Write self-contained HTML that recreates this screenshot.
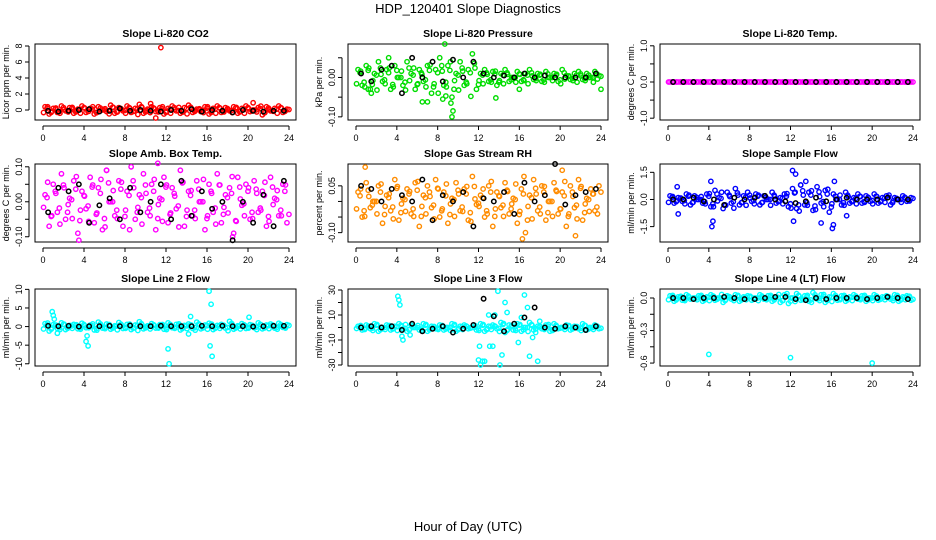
<!DOCTYPE html>
<html><head><meta charset="utf-8"><style>
body{margin:0;background:#fff}
svg{display:block;font-family:"Liberation Sans",sans-serif}
</style></head><body>
<svg id="chart" width="936" height="540" viewBox="0 0 936 540">
<text x="468" y="13" text-anchor="middle" font-size="13">HDP_120401  Slope Diagnostics</text>
<text x="468" y="531" text-anchor="middle" font-size="13">Hour of Day (UTC)</text>
</svg>
<script>
const xTicks=[0,4,8,12,16,20,24];
const blackHours=[0.5,1.5,2.5,3.5,4.5,5.5,6.5,7.5,8.5,9.5,10.5,11.5,12.5,13.5,14.5,15.5,16.5,17.5,18.5,19.5,20.5,21.5,22.5,23.5];
const titles=["Slope Li-820 CO2","Slope Li-820 Pressure","Slope Li-820 Temp.","Slope Amb. Box Temp.","Slope Gas Stream RH","Slope Sample Flow","Slope Line 2 Flow","Slope Line 3 Flow","Slope Line 4 (LT) Flow"];
const yTitles=["Licor ppm per min.","kPa per min.","degrees C per min.","degrees C per min.","percent per min.","ml/min per min.","ml/min per min.","ml/min per min.","ml/min per min."];
const colors=["#ff0000","#00dd00","#ff00ff","#ff00ff","#ff8c00","#0000ff","#00ffff","#00ffff","#00ffff"];
const yMin=[-1.25,-0.108,-1.05,-0.115,-0.13,-2.35,-10.6,-30.8,-0.627];
const yMax=[8.25,0.085,1.05,0.108,0.12,1.96,10.1,30.8,0.083];
const yTickVals=[[0,2,4,6,8],[-0.10,-0.05,0,0.05],[-1,-0.5,0,0.5,1],[-0.10,-0.05,0,0.05,0.10],[-0.10,-0.05,0,0.05],[-1.5,0,1.5],[-10,-5,0,5,10],[-30,-20,-10,0,10,20,30],[-0.6,-0.45,-0.3,-0.15,0]];
const yTickLabels=[["0","2","4","6","8"],["-0.10","","0.00",""],["-1.0","","0.0","","1.0"],["-0.10","","0.00","","0.10"],["-0.10","","","0.05"],["-1.5","0.0","1.5"],["-10","-5","0","5","10"],["-30","","-10","","10","","30"],["-0.6","","-0.3","","0.0"]];
const s1=[0.4,-0.5,0.2,-0.3,0.5,-0.1,0.3,-0.4,0.1,0.5,-0.3,0.2,-0.5,0.4,0.0,-0.2,0.6,-0.4,0.3,-0.1,0.5,-0.3,0.2,0.7,-0.4,0.1,0.4,-0.2,0.3,-0.5,0.2,0.5,-0.1,-0.4,0.3,0.6,-0.3,0.1,-0.2,0.4,-0.5,0.2,0.5,-0.3,0.3,-0.1,0.4,-0.4,0.2,0.5,-0.2,0.0,0.3,-0.6,0.4,-0.1,0.2,0.5,-0.3,0.1];
const s2=[0.02,-0.02,0.03,-0.03,0.01,0.04,-0.01,0.02,-0.03,0.03,0.0,-0.02,0.04,0.01,-0.03,0.02,-0.01,0.03,-0.04,0.02,0.05,-0.02,0.03,-0.05,0.01,0.04,-0.02,0.02,0.06,-0.03,0.01,0.02,-0.01,0.015,-0.02,0.01,0.02,-0.01,0.0,0.015,-0.01,0.01,0.02,-0.005,0.01,-0.01,0.015,0.0,0.01,-0.01,0.02,0.005,-0.005,0.01,0.015,-0.005,0.01,0.0,0.015,0.005];
const s3=[0,0,0,0,0,0,0,0,0,0,0,0,0,0,0,0,0,0,0,0,0,0,0,0,0,0,0,0,0,0,0,0,0,0,0,0,0,0,0,0,0,0,0,0,0,0,0,0,0,0,0,0,0,0,0,0,0,0,0,0];
const s4=[0.02,-0.07,0.05,-0.03,0.08,-0.05,0.01,0.06,-0.09,0.03,-0.02,0.07,-0.06,0.04,-0.08,0.09,0.0,-0.04,0.06,-0.07,0.03,0.1,-0.05,0.02,0.08,-0.03,0.05,-0.08,0.01,0.07,-0.06,0.04,-0.02,0.09,-0.07,0.03,-0.04,0.06,0.0,-0.08,0.05,-0.03,0.08,-0.06,0.02,0.04,-0.09,0.07,-0.01,0.05,-0.05,0.06,-0.03,0.03,-0.07,0.07,0.01,-0.04,0.05,-0.06];
const s5=[0.03,-0.05,0.06,-0.02,0.0,0.05,-0.07,0.02,-0.03,0.07,-0.06,0.01,0.04,-0.04,0.06,-0.08,0.02,0.05,-0.02,0.07,-0.05,0.03,-0.07,0.01,0.06,-0.03,0.04,-0.06,0.08,-0.01,0.02,-0.05,0.05,-0.08,0.03,-0.02,0.06,-0.04,0.01,-0.07,0.04,-0.1,0.02,0.07,-0.03,0.05,-0.06,0.0,0.06,-0.04,0.03,-0.08,0.05,-0.02,0.07,-0.06,0.01,0.04,-0.03,0.05];
const s6=[0.2,-0.2,0.1,-0.1,0.3,-0.3,0.2,0.0,-0.2,0.3,-0.4,0.5,0.1,-0.5,0.4,-0.2,0.6,-0.3,0.2,0.4,-0.1,0.3,-0.3,0.2,0.0,0.4,-0.2,0.1,0.3,-0.4,0.6,-0.5,0.8,-0.3,0.4,-0.6,0.7,-0.2,0.5,-0.7,0.3,0.0,-0.3,0.4,-0.2,0.1,0.3,-0.2,0.2,-0.1,0.3,-0.2,0.1,0.2,-0.3,0.1,0.0,0.2,-0.1,0.1];
const s7=[0.8,-1.2,0.5,-0.5,1.0,-0.8,0.3,0.6,-0.6,0.9,-0.3,0.4,-0.9,1.2,-0.4,0.7,-0.7,0.2,1.1,-0.5,0.6,-0.8,0.4,1.3,-0.6,0.2,0.8,-0.4,0.5,-0.7,1.0,-0.3,0.6,-0.9,0.3,0.7,-0.5,1.2,-0.6,0.4,0.9,-0.8,0.3,0.6,-0.4,1.4,-0.7,0.2,0.8,-0.5,0.5,-0.3,1.0,-0.6,0.4,0.7,-0.4,0.9,-0.2,0.5];
const s8=[1,-2,2,-1,3,-3,0,2,-2,1,3,-1,-3,2,0,-2,3,-3,1,-1,2,-2,0,3,-3,1,2,-1,0,-2,3,-3,1,2,-1,4,-4,2,-2,3,-3,0,4,-2,1,-1,2,-3,3,-1,0,2,-2,1,-1,3,-2,0,2,-1];
const s9=[0.02,-0.03,0.01,-0.02,0.03,-0.01,0.0,0.02,-0.03,0.01,0.03,-0.02,0.0,-0.04,0.02,-0.01,0.03,-0.03,0.01,0.02,-0.02,0.0,0.03,-0.01,0.02,-0.03,0.01,-0.04,0.03,-0.05,0.0,0.04,-0.02,0.02,-0.03,0.05,-0.01,0.03,-0.04,0.01,0.04,-0.02,0.02,-0.03,0.01,0.03,-0.01,0.02,-0.03,0.0,0.03,-0.02,0.01,0.02,-0.01,0.03,-0.03,0.01,0.02,-0.02];
const series=[s1,s2,s3,s4,s5,s6,s7,s8,s9];
const ox1=[11.5,11.0,10.5,20.5],oy1=[7.8,-1.0,0.8,0.9];
const ox2=[9.4,9.5,9.3,6.5,7,8.8,8.5,13.7,24,3.2,8.7,1.2,1.5,16],oy2=[-0.1,-0.085,-0.065,-0.062,-0.062,-0.047,-0.055,-0.052,-0.03,0.05,0.085,-0.03,-0.04,-0.03];
const ox3=[],oy3=[];
const ox4=[11.2,3.5,6.2,18.5],oy4=[0.11,-0.11,0.09,-0.1];
const ox5=[0.9,16.3,20.2,21.5],oy5=[0.11,-0.12,0.1,-0.11];
const ox6=[4.2,4.4,4.3,12.2,12.5,13.5,16.1,16.2,16.3,12.3,15,1,0.9,17.5,13],oy6=[1.0,-1.2,-1.5,1.6,1.4,1.0,-1.6,-1.4,1.0,-1.2,-1.3,-0.8,0.7,-0.9,0.8];
const ox7=[0.9,1.0,1.1,1.4,4.2,4.4,4.3,12.2,12.3,16.2,16.4,16.5,16.3,14.4,14.2,20.1],oy7=[4.0,3.0,2.0,-1.8,-4.0,-5.2,-2.5,-6.0,-10,9.5,6.0,-8.0,-5.2,2.7,-2.0,2.5];
const ox8=[4.1,4.2,4.3,4.5,4.6,5.3,12.0,12.2,12.4,12.6,13.1,13.4,13.6,13.9,14.1,14.3,14.6,14.8,16.5,16.8,17.0,17.3,17.6,17.8,18.0,13.0,12.1,15.9,16.2],oy8=[25,22,18,-7,-10,-6,-26,-30,-27,-27,-15,-15,10,29,-30,-22,20,12,26,16,-23,-8,-4,-27,5,10,-15,-12,8];
const ox9=[4,12,20],oy9=[-0.52,-0.55,-0.6];
const outX=[ox1,ox2,ox3,ox4,ox5,ox6,ox7,ox8,ox9],outY=[oy1,oy2,oy3,oy4,oy5,oy6,oy7,oy8,oy9];
const b1=[-0.1,-0.2,-0.1,0.0,0.1,-0.2,-0.1,0.2,-0.1,0.0,-0.1,-0.2,0.0,-0.1,0.1,-0.2,0.0,-0.1,-0.3,0.0,-0.1,-0.2,-0.1,-0.1];
const b2=[0.01,-0.01,0.02,0.03,-0.04,0.05,0.0,0.04,-0.01,0.045,0.0,0.04,0.01,0.0,0.005,0.0,0.01,0.0,0.005,0.0,0.0,0.0,0.0,0.01];
const b3=[0,0,0,0,0,0,0,0,0,0,0,0,0,0,0,0,0,0,0,0,0,0,0,0];
const b4=[-0.03,0.04,0.03,0.05,-0.06,-0.01,0.01,-0.05,0.04,-0.03,0.0,0.05,-0.05,0.06,-0.04,0.03,-0.02,0.0,-0.11,0.0,-0.06,0.02,-0.07,0.06];
const b5=[0.05,0.04,0.0,0.04,0.02,0.0,0.07,-0.06,0.02,0.0,0.03,-0.08,0.01,0.0,0.03,-0.04,0.06,0.0,0.02,0.12,-0.01,0.02,0.03,0.04];
const b6=[0.0,0.0,0.1,-0.1,0.0,-0.3,0.1,0.0,0.1,0.2,0.0,-0.1,-0.2,-0.1,0.1,-0.1,0.0,0.1,0.0,0.0,0.0,0.1,0.0,0.0];
const b7=[0.2,0.1,0.2,0.0,0.1,0.1,0.2,0.1,0.3,0.1,0.1,0.2,0.1,0.1,0.1,0.2,0.1,0.2,0.1,0.1,0.0,0.1,0.2,0.2];
const b8=[0,1,0,1,-2,3,-3,-1,1,-4,-1,2,23,9,-3,3,8,16,0,-1,1,0,-2,1];
const b9=[0.0,0.0,-0.01,0.0,0.0,0.01,0.0,-0.01,-0.01,0.0,0.01,0.01,-0.01,-0.02,0.0,-0.01,0.0,0.0,0.0,-0.01,0.0,0.01,0.0,-0.01];
const blacks=[b1,b2,b3,b4,b5,b6,b7,b8,b9];

const NS="http://www.w3.org/2000/svg";
const svg=document.getElementById('chart');
const colL=[35,348,660],colR=[296,608,920],rowT=[44,164,289],rowB=[120,242,366];
function mk(tag,attrs,parent){const e=document.createElementNS(NS,tag);for(const k in attrs)e.setAttribute(k,attrs[k]);parent.appendChild(e);return e;}
for(let p=0;p<9;p++){
  const c=p%3,r=Math.floor(p/3);
  const L=colL[c],R=colR[c],T=rowT[r],B=rowB[r];
  const x0=L+8,x1=R-7;
  const xs=h=>x0+(h/24)*(x1-x0);
  const ys=v=>B-(v-yMin[p])/(yMax[p]-yMin[p])*(B-T);
  const g=mk('g',{},svg);
  
  
  const t=mk('text',{x:(L+R)/2,y:T-7,'text-anchor':'middle','font-size':'10.5','font-weight':'bold'},g);
  t.textContent=titles[p];
  
  
  const box=mk('rect',{x:L,y:T,width:R-L,height:B-T,fill:'none',stroke:'#000','stroke-width':1},g);
  
  
  const xa=mk('g',{},g);
  
  
  mk('line',{x1:xs(0),x2:xs(24),y1:B+6,y2:B+6,stroke:'#000'},xa);
  xTicks.forEach(v=>{mk('line',{x1:xs(v),x2:xs(v),y1:B+6,y2:B+10,stroke:'#000'},xa);
    const tl=mk('text',{x:xs(v),y:B+21,'text-anchor':'middle','font-size':'9'},xa);tl.textContent=v;
    
    });
  const ya=mk('g',{},g);
  
  
  const tv=yTickVals[p];
  mk('line',{x1:L-6,x2:L-6,y1:ys(tv[0]),y2:ys(tv[tv.length-1]),stroke:'#000'},ya);
  tv.forEach((v,i)=>{const y=ys(v);mk('line',{x1:L-10,x2:L-6,y1:y,y2:y,stroke:'#000'},ya);
    const lab=yTickLabels[p][i];
    if(lab){const tl=mk('text',{x:L-13,y:y,'text-anchor':'middle','font-size':'9',transform:`rotate(-90 ${L-13} ${y})`},ya);tl.textContent=lab;
    
    }});
  const yt=mk('text',{x:L-26,y:(T+B)/2,'text-anchor':'middle','font-size':'9',transform:`rotate(-90 ${L-26} ${(T+B)/2})`},ya);
  yt.textContent=yTitles[p];
  
  
  const cg=mk('g',{fill:'none',stroke:colors[p],'stroke-width':1.4},g);
  
  
  const s=series[p],n=s.length;
  s.forEach((v,i)=>{const h=(i+0.5)*24/n;
    const pt=mk('circle',{cx:xs(h),cy:ys(v),r:2.2},cg);
    
    
    const pt2=mk('circle',{cx:xs(h)+2,cy:ys(v*0.6),r:2.2},cg);
    
    
    const pt3=mk('circle',{cx:xs(h)-1.5,cy:ys(-v*0.8),r:2.2},cg);
    
    });
  outX[p].forEach((h,i)=>{const pt=mk('circle',{cx:xs(h),cy:ys(outY[p][i]),r:2.2},cg);
    
    });
  const bg=mk('g',{fill:'none',stroke:'#000','stroke-width':1.5},g);
  
  
  blacks[p].forEach((v,i)=>{const pt=mk('circle',{cx:xs(blackHours[i]),cy:ys(v),r:2.2},bg);
    
    });
}
</script>
</body></html>
